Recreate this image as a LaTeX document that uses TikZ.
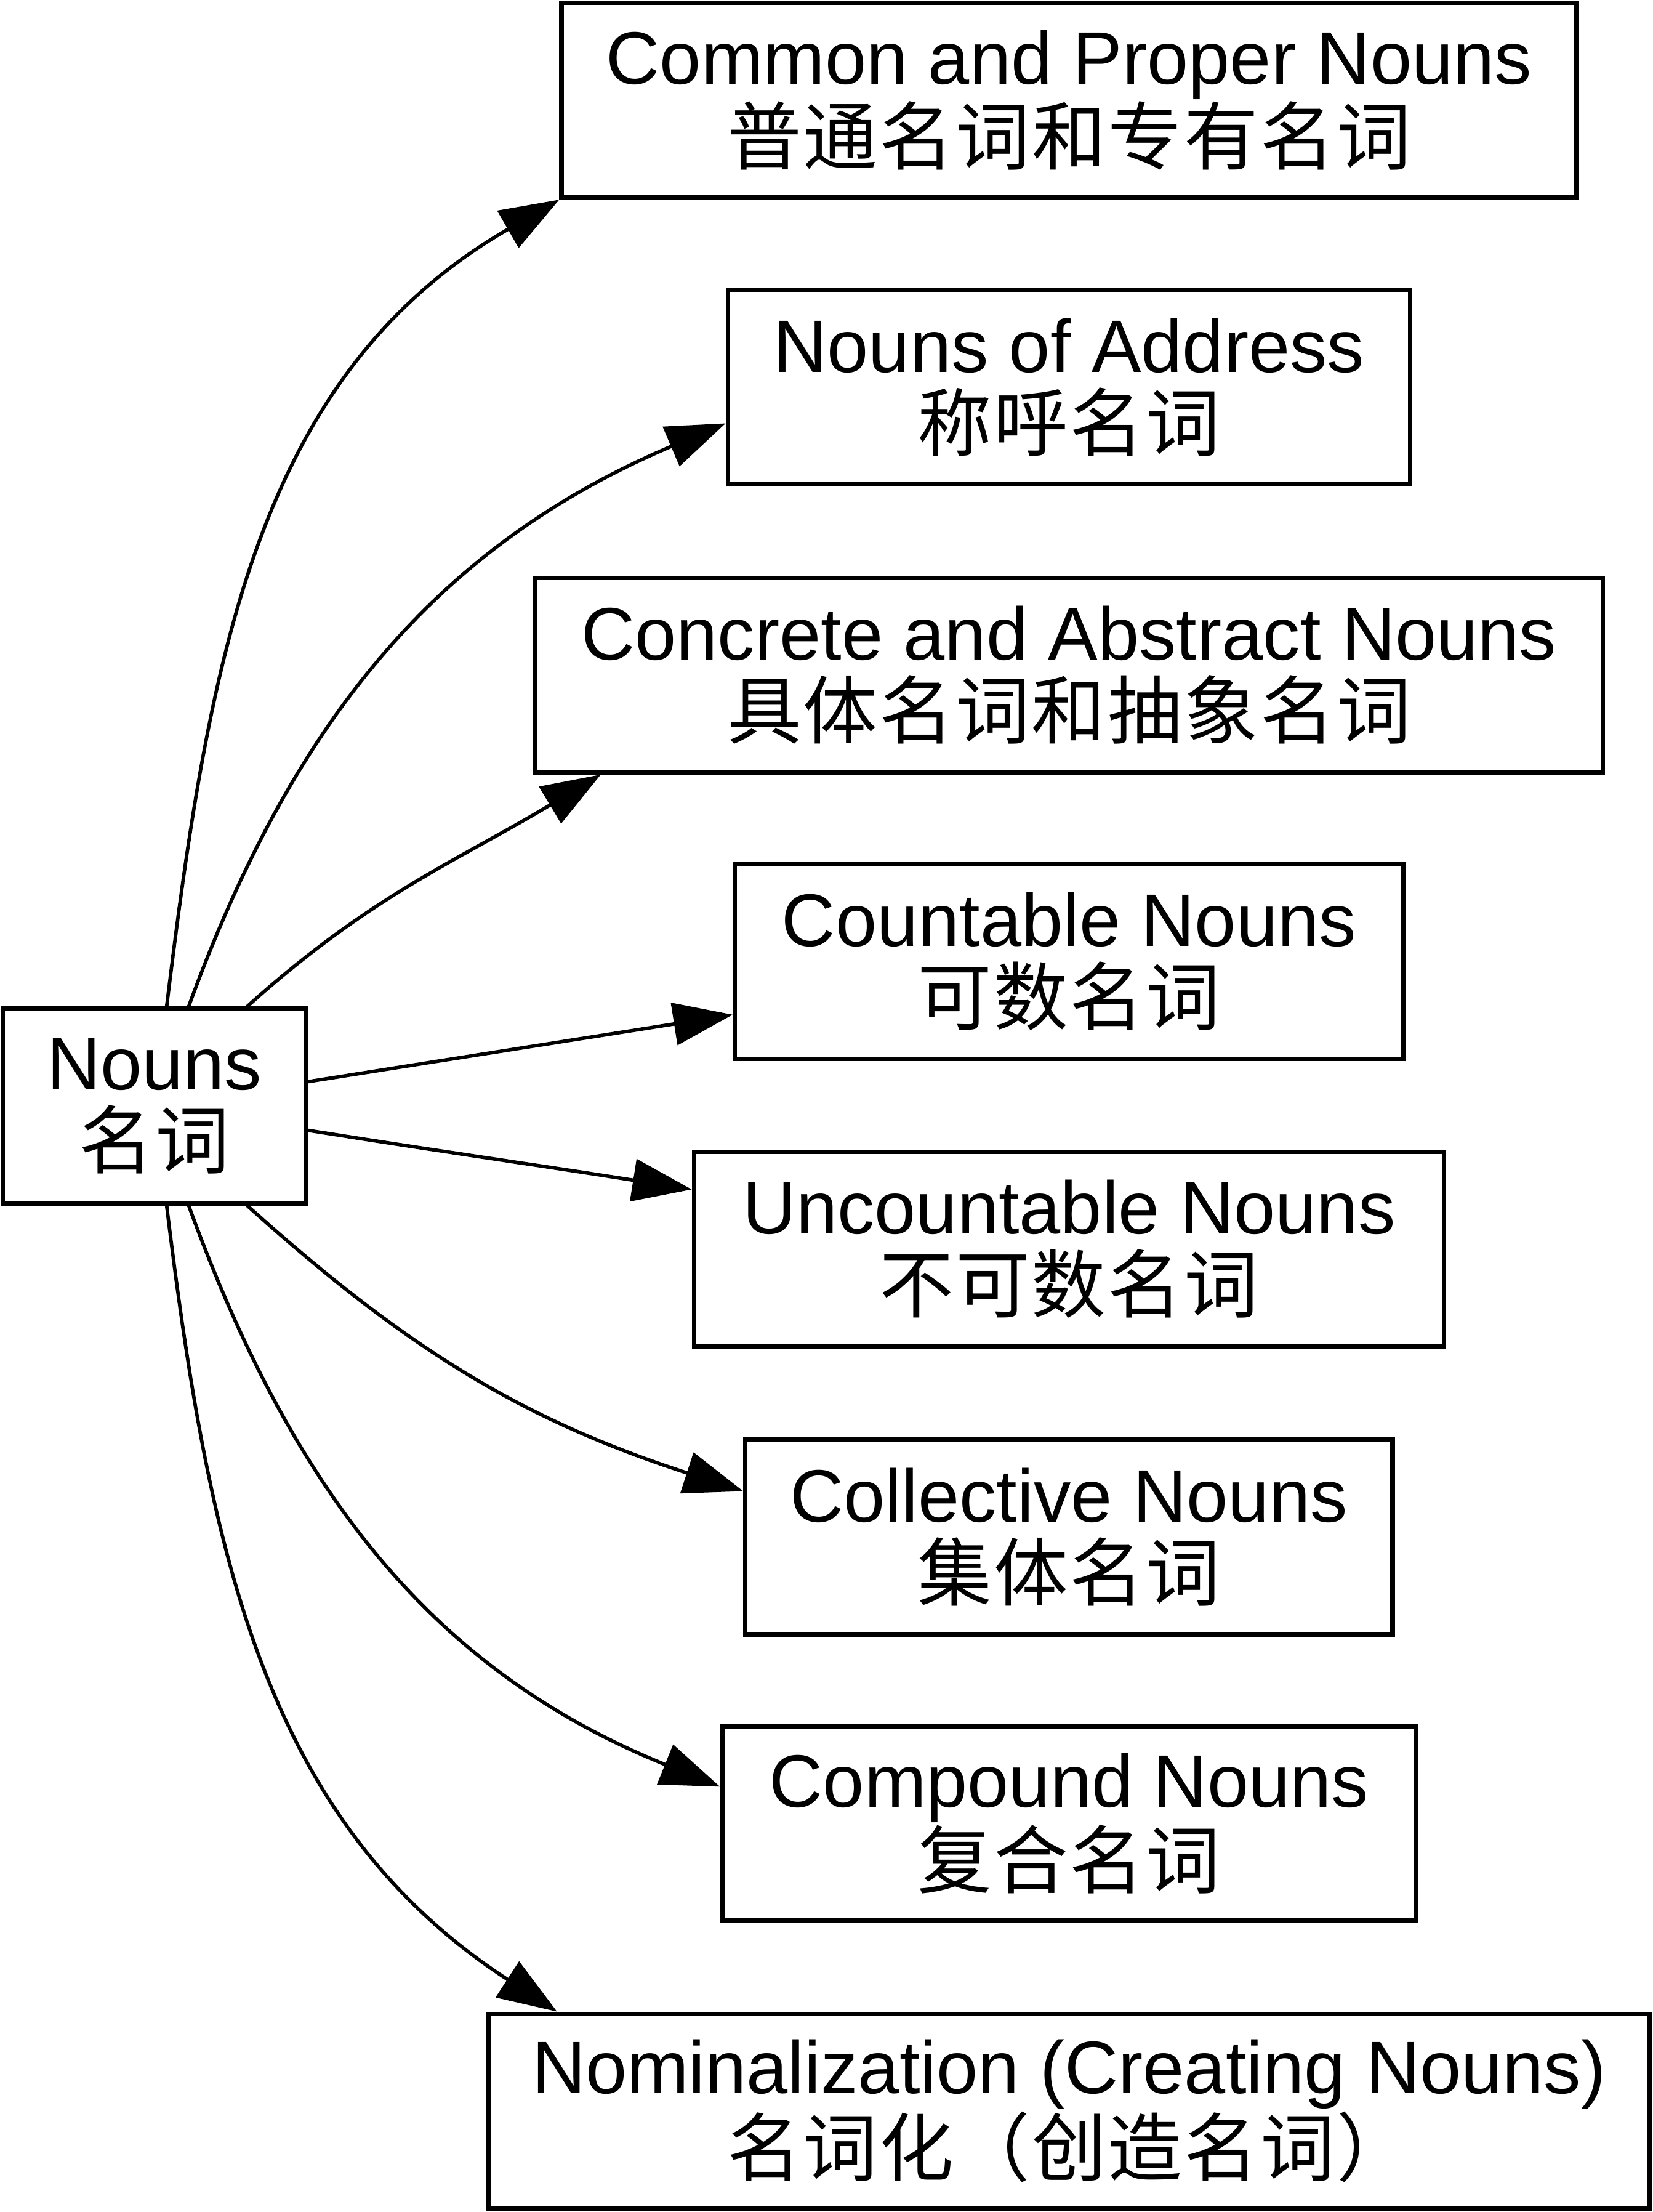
\documentclass[tikz,border=0pt]{standalone}
\usepackage{fontspec}
\setmainfont{Liberation Sans}
\newfontfamily\cjk[LetterSpace=2.5]{Noto Sans CJK SC}
\usetikzlibrary{arrows.meta}
\tikzset{
  catbox/.style={draw,line width=1.8pt,minimum height=2.76cm,inner sep=0pt,align=center,
    font=\fontsize{30}{31.5}\selectfont},
  link/.style={-{Triangle[length=8.4mm,width=6mm]},line width=1.4pt},  % graph edge
}

\begin{document}
\begin{tikzpicture}[x=0.02cm,y=0.02cm]
  \useasboundingbox (0,0) rectangle (1172,-1568);
  \node[catbox,minimum width=4.3cm] (nouns) at (109.5,-784) {Nouns\\{\cjk 名词}};
  \foreach \n/\y/\w/\en/\zh in {
      common/71/14.4/{Common and Proper Nouns}/{普通名词和专有名词},
      address/274.5/9.68/{Nouns of Address}/{称呼名词},
      concrete/478.5/15.14/{Concrete and Abstract Nouns}/{具体名词和抽象名词},
      countable/681.5/9.48/{Countable Nouns}/{可数名词},
      uncount/885.5/10.64/{Uncountable Nouns}/{不可数名词},
      collect/1089.5/9.18/{Collective Nouns}/{集体名词},
      compound/1292.5/9.84/{Compound Nouns}/{复合名词},
      nominal/1496.5/16.46/{Nominalization (Creating Nouns)}/{名词化（创造名词）}}{
    \node[catbox,minimum width=\w cm] (\n) at (758,-\y) {\en\\{\cjk\zh}};
  }
  % edges: start angle on nouns / end anchor / out / in
  \foreach \n/\a/\b/\o/\i in {
      common/83/south west/83/210,
      address/71/186/70/203,
      concrete/47/192/42/211,
      countable/9/189/9/189,
      uncount/351/171/351/171,
      collect/313/172/318/162,
      compound/289/174/290/158,
      nominal/277/169/277/147}{
    \draw[link] (nouns.\a) to[out=\o,in=\i] (\n.\b);
  }
\end{tikzpicture}
\end{document}
